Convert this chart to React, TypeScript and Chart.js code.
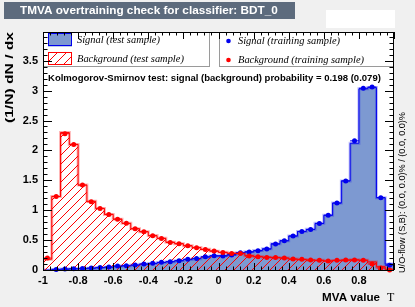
import React, { useEffect, useRef } from 'react';
import { Chart, registerables } from 'chart.js';

Chart.register(...registerables);

// ---------------- data ----------------
const binLowEdges = [
  -1, -0.95, -0.9, -0.85, -0.8, -0.75, -0.7, -0.65, -0.6, -0.55,
  -0.5, -0.45, -0.4, -0.35, -0.3, -0.25, -0.2, -0.15, -0.1, -0.05,
  0, 0.05, 0.1, 0.15, 0.2, 0.25, 0.3, 0.35, 0.4, 0.45,
  0.5, 0.55, 0.6, 0.65, 0.7, 0.75, 0.8, 0.85, 0.9, 0.95,
];
const binWidth = 0.05;

const signalTest = [
  0.0, 0.01, 0.015, 0.02, 0.025, 0.03, 0.04, 0.048, 0.062, 0.07,
  0.082, 0.098, 0.11, 0.125, 0.14, 0.155, 0.175, 0.19, 0.215, 0.235,
  0.24, 0.26, 0.285, 0.305, 0.325, 0.355, 0.44, 0.49, 0.57, 0.645,
  0.68, 0.78, 0.915, 1.12, 1.49, 2.12, 3.03, 3.05, 1.21, 0.1,
];
const signalTrain = [
  null, 0.01, 0.016, 0.022, 0.026, 0.032, 0.04, 0.05, 0.067, 0.072,
  0.083, 0.1, 0.111, 0.128, 0.139, 0.156, 0.178, 0.194, 0.222, 0.239,
  0.233, 0.25, 0.289, 0.3, 0.322, 0.35, 0.433, 0.489, 0.567, 0.644,
  0.678, 0.778, 0.917, 1.12, 1.49, 2.16, 3.04, 3.06, 1.21, 0.08,
];
const backgroundTest = [
  0.18, 1.23, 2.3, 2.1, 1.42, 1.15, 1.03, 0.93, 0.85, 0.78,
  0.69, 0.64, 0.575, 0.53, 0.465, 0.44, 0.405, 0.375, 0.345, 0.315,
  0.295, 0.28, 0.275, 0.24, 0.225, 0.215, 0.205, 0.2, 0.182, 0.175,
  0.165, 0.162, 0.15, 0.16, 0.165, 0.17, 0.165, 0.135, 0.055, 0.01,
];
const backgroundTrain = [
  0.2, 1.23, 2.28, 2.1, 1.42, 1.14, 1.03, 0.93, 0.85, 0.78,
  0.69, 0.64, 0.572, 0.528, 0.461, 0.439, 0.406, 0.372, 0.344, 0.317,
  0.294, 0.278, 0.278, 0.233, 0.222, 0.211, 0.211, 0.2, 0.183, 0.178,
  0.167, 0.161, 0.15, 0.161, 0.167, 0.167, 0.161, 0.1, 0.033, 0.0,
];

const xTickLabels = ['-1', '-0.8', '-0.6', '-0.4', '-0.2', '0', '0.2', '0.4', '0.6', '0.8'];
const yTickLabels = ['0', '0.5', '1', '1.5', '2', '2.5', '3', '3.5'];

const titleText = 'TMVA overtraining check for classifier: BDT_0';
const ksText = 'Kolmogorov-Smirnov test: signal (background) probability = 0.198 (0.079)';
const legendTest = ['Signal (test sample)', 'Background (test sample)'];
const legendTrain = ['Signal (training sample)', 'Background (training sample)'];
const yTitle = '(1/N) dN / dx';
const xTitle = 'MVA value';
const xTitleSymbol = 'T';
const uoText = 'U/O-flow (S,B): (0.0, 0.0)% / (0.0, 0.0)%';

// ---------------- style ----------------
const X_MIN = -1;
const X_MAX = 1;
const Y_MIN = 0;
const Y_MAX = 3.98;
const SIG_FILL = '#7d99d1';
const SIG_LINE = '#0000ee';
const BKG_LINE = '#ff0000';
const TITLE_BG = '#5d6b7d';
const PAGE_BG = '#f0f0f0';
const HATCH_STEP = 9;
const SANS = '"Liberation Sans", Arial, sans-serif';
const SERIF = '"Liberation Serif", "Times New Roman", serif';

function stepData(vals: number[]) {
  const pts: { x: number; y: number }[] = [{ x: binLowEdges[0], y: 0 }];
  vals.forEach((v, i) => pts.push({ x: binLowEdges[i], y: v }));
  const last = binLowEdges.length - 1;
  pts.push({ x: binLowEdges[last] + binWidth, y: 0 });
  return pts;
}
function barData(vals: (number | null)[]) {
  const pts: { x: number; y: number | null }[] = [];
  vals.forEach((v, i) => {
    if (v === null) return;
    pts.push({ x: binLowEdges[i], y: v });
    pts.push({ x: binLowEdges[i] + binWidth, y: v });
    pts.push({ x: binLowEdges[i] + binWidth / 2, y: null });
  });
  return pts;
}
function pointData(vals: (number | null)[]) {
  return vals
    .map((v, i) => ({ x: binLowEdges[i] + binWidth / 2, y: v }))
    .filter((p) => p.y !== null);
}

function fitFont(ctx: CanvasRenderingContext2D, text: string, style: string, family: string, width: number) {
  ctx.font = `${style} 100px ${family}`;
  const w = ctx.measureText(text).width;
  const size = (100 * width) / w;
  return `${style} ${size.toFixed(2)}px ${family}`;
}

function hatchRegion(ctx: CanvasRenderingContext2D, left: number, top: number, right: number, bottom: number) {
  const h = bottom - top;
  ctx.strokeStyle = BKG_LINE;
  ctx.lineWidth = 1;
  ctx.beginPath();
  const start = Math.floor((left - h) / HATCH_STEP) * HATCH_STEP;
  for (let c = start; c <= right; c += HATCH_STEP) {
    ctx.moveTo(c, bottom);
    ctx.lineTo(c + h, top);
  }
  ctx.stroke();
}

export default function App() {
  const ref = useRef<HTMLCanvasElement | null>(null);

  useEffect(() => {
    const canvas = ref.current;
    if (!canvas) return;

    const decor = {
      id: 'decor',
      beforeDraw(chart: any) {
        const { ctx, chartArea: a } = chart;
        ctx.save();
        ctx.fillStyle = PAGE_BG;
        ctx.fillRect(0, 0, chart.width, chart.height);
        ctx.fillStyle = '#ffffff';
        ctx.fillRect(a.left, a.top, a.right - a.left, a.bottom - a.top);
        // title box
        ctx.fillStyle = TITLE_BG;
        ctx.fillRect(4, 2, 291, 17);
        ctx.fillStyle = '#ffffff';
        ctx.font = fitFont(ctx, titleText, 'bold', SANS, 258);
        ctx.textBaseline = 'middle';
        ctx.textAlign = 'left';
        ctx.fillText(titleText, 20, 11);
        // small white box top right
        ctx.fillStyle = '#ffffff';
        ctx.fillRect(326, 10, 69, 18);
        ctx.restore();
      },
      beforeDatasetDraw(chart: any, args: any) {
        const ds = chart.data.datasets[args.index];
        if (!ds || ds.label !== 'Background (test sample)') return;
        const { ctx, chartArea: a, scales } = chart;
        const xs = scales.x;
        const ys = scales.y;
        ctx.save();
        ctx.beginPath();
        ctx.rect(a.left, a.top, a.right - a.left, a.bottom - a.top);
        ctx.clip();
        ctx.beginPath();
        const y0 = ys.getPixelForValue(0);
        ctx.moveTo(xs.getPixelForValue(binLowEdges[0]), y0);
        backgroundTest.forEach((v, i) => {
          const yv = ys.getPixelForValue(v);
          ctx.lineTo(xs.getPixelForValue(binLowEdges[i]), yv);
          ctx.lineTo(xs.getPixelForValue(binLowEdges[i] + binWidth), yv);
        });
        const last = binLowEdges.length - 1;
        ctx.lineTo(xs.getPixelForValue(binLowEdges[last] + binWidth), y0);
        ctx.closePath();
        ctx.clip();
        hatchRegion(ctx, a.left, a.top, a.right, a.bottom);
        ctx.restore();
      },
      afterDatasetsDraw(chart: any) {
        const { ctx, chartArea: a, scales } = chart;
        const xs = scales.x;
        const ys = scales.y;
        ctx.save();
        // legends
        ctx.fillStyle = '#ffffff';
        ctx.strokeStyle = '#9a9a9a';
        ctx.lineWidth = 1;
        ctx.fillRect(a.left, a.top, 167, 35);
        ctx.strokeRect(a.left + 0.5, a.top + 0.5, 166, 34);
        ctx.fillRect(219, a.top, a.right - 219, 35);
        ctx.strokeRect(219.5, a.top + 0.5, a.right - 220, 34);

        // legend symbols
        ctx.fillStyle = SIG_FILL;
        ctx.fillRect(48, 33.5, 24, 13);
        ctx.strokeStyle = SIG_LINE;
        ctx.strokeRect(48.5, 33.5, 23, 12);
        ctx.save();
        ctx.beginPath();
        ctx.rect(48, 52, 24, 13);
        ctx.clip();
        hatchRegion(ctx, 48, 52, 72, 65);
        ctx.restore();
        ctx.strokeStyle = BKG_LINE;
        ctx.lineWidth = 1;
        ctx.strokeRect(48.5, 52.5, 23, 12);
        ctx.fillStyle = SIG_LINE;
        ctx.beginPath(); ctx.arc(228.5, 41, 2.3, 0, Math.PI * 2); ctx.fill();
        ctx.fillStyle = BKG_LINE;
        ctx.beginPath(); ctx.arc(228.5, 60, 2.3, 0, Math.PI * 2); ctx.fill();

        // legend texts
        ctx.font = fitFont(ctx, legendTest[1], 'italic', SERIF, 107);
        ctx.fillStyle = '#000000';
        ctx.textBaseline = 'middle';
        ctx.textAlign = 'left';
        ctx.fillText(legendTest[0], 77, 40.5);
        ctx.fillText(legendTest[1], 77, 59);
        ctx.fillText(legendTrain[0], 238, 41);
        ctx.fillText(legendTrain[1], 238, 60);

        // KS text
        ctx.font = fitFont(ctx, ksText, 'bold', SANS, 333);
        ctx.fillText(ksText, 48, 78);

        // ticks
        ctx.strokeStyle = '#000000';
        ctx.lineWidth = 1;
        ctx.beginPath();
        for (let k = 0; k <= 50; k++) {
          const v = X_MIN + k * 0.04;
          const px = Math.round(xs.getPixelForValue(v)) + 0.5;
          const len = k % 5 === 0 ? 7 : 3.5;
          ctx.moveTo(px, a.bottom); ctx.lineTo(px, a.bottom - len);
          ctx.moveTo(px, a.top); ctx.lineTo(px, a.top + len);
        }
        for (let k = 0; k * 0.1 <= Y_MAX + 1e-9; k++) {
          const v = Y_MIN + k * 0.1;
          const py = Math.round(ys.getPixelForValue(v)) + 0.5;
          const len = k % 5 === 0 ? 9 : 4.5;
          ctx.moveTo(a.left, py); ctx.lineTo(a.left + len, py);
          ctx.moveTo(a.right, py); ctx.lineTo(a.right - len, py);
        }
        ctx.stroke();
        // frame
        ctx.strokeRect(a.left + 0.5, a.top + 0.5, a.right - a.left - 1, a.bottom - a.top);
        ctx.restore();
      },
      afterDraw(chart: any) {
        const { ctx, chartArea: a } = chart;
        ctx.save();
        ctx.fillStyle = '#000000';
        // y title (stretched along its direction, like the reference)
        ctx.translate(10, a.top);
        ctx.rotate(-Math.PI / 2);
        ctx.font = `bold 11px ${SANS}`;
        const yw = ctx.measureText(yTitle).width;
        ctx.scale(91 / yw, 1);
        ctx.textAlign = 'right';
        ctx.textBaseline = 'middle';
        ctx.fillText(yTitle, 0, 0);
        ctx.restore();

        ctx.save();
        ctx.fillStyle = '#000000';
        ctx.font = fitFont(ctx, xTitle, 'bold', SANS, 58);
        ctx.textAlign = 'right';
        ctx.textBaseline = 'middle';
        ctx.fillText(xTitle, 380, 297.5);
        ctx.font = `12px ${SERIF}`;
        ctx.textAlign = 'left';
        ctx.fillText(xTitleSymbol, 387, 297.5);

        // U/O-flow text
        ctx.translate(403, 273);
        ctx.rotate(-Math.PI / 2);
        ctx.font = `8.5px ${SANS}`;
        const uw = ctx.measureText(uoText).width;
        ctx.scale(161 / uw, 1);
        ctx.textAlign = 'left';
        ctx.textBaseline = 'middle';
        ctx.fillText(uoText, 0, 0);
        ctx.restore();
      },
    };

    const tickFont = { family: SANS, size: 11, weight: 'bold' as const };

    const chart = new Chart(canvas, {
      type: 'line',
      data: {
        datasets: [
          {
            label: 'Background (training sample) bars',
            data: barData(backgroundTrain),
            borderColor: BKG_LINE,
            borderWidth: 1,
            pointRadius: 0,
            spanGaps: false,
            fill: false,
            order: 0,
          } as any,
          {
            label: 'Background (training sample)',
            data: pointData(backgroundTrain),
            showLine: false,
            pointRadius: 2.5,
            pointBorderWidth: 0,
            pointBackgroundColor: BKG_LINE,
            borderColor: BKG_LINE,
            fill: false,
            clip: 3,
            order: 0,
          } as any,
          {
            label: 'Signal (training sample) bars',
            data: barData(signalTrain),
            borderColor: SIG_LINE,
            borderWidth: 1,
            pointRadius: 0,
            spanGaps: false,
            fill: false,
            order: 1,
          } as any,
          {
            label: 'Signal (training sample)',
            data: pointData(signalTrain),
            showLine: false,
            pointRadius: 2.5,
            pointBorderWidth: 0,
            pointBackgroundColor: SIG_LINE,
            borderColor: SIG_LINE,
            fill: false,
            clip: 3,
            order: 1,
          } as any,
          {
            label: 'Background halo',
            data: stepData(backgroundTest),
            stepped: true,
            borderColor: 'rgba(255,0,0,0.3)',
            borderWidth: 3,
            pointRadius: 0,
            fill: false,
            order: 2,
          } as any,
          {
            label: 'Background (test sample)',
            data: stepData(backgroundTest),
            stepped: true,
            borderColor: BKG_LINE,
            borderWidth: 1,
            pointRadius: 0,
            fill: false,
            order: 3,
          } as any,
          {
            label: 'Signal halo',
            data: stepData(signalTest),
            stepped: true,
            borderColor: 'rgba(0,0,238,0.25)',
            borderWidth: 3,
            pointRadius: 0,
            fill: false,
            order: 4,
          } as any,
          {
            label: 'Signal (test sample)',
            data: stepData(signalTest),
            stepped: true,
            borderColor: SIG_LINE,
            borderWidth: 1,
            backgroundColor: SIG_FILL,
            pointRadius: 0,
            fill: 'origin',
            order: 5,
          } as any,
        ],
      },
      options: {
        responsive: false,
        animation: false,
        events: [],
        layout: { padding: { left: 0, right: 21, top: 32, bottom: 0 } },
        plugins: {
          legend: { display: false },
          title: { display: false },
          tooltip: { enabled: false },
        },
        scales: {
          x: {
            type: 'linear',
            min: X_MIN,
            max: X_MAX,
            grid: { display: false, drawTicks: false },
            border: { display: false },
            afterFit: (s: any) => { s.height = 37; },
            ticks: {
              stepSize: 0.2,
              autoSkip: false,
              maxRotation: 0,
              minRotation: 0,
              includeBounds: false,
              padding: 4,
              color: '#000000',
              font: tickFont,
              callback: (v: any) => {
                const s = String(Math.round(Number(v) * 10) / 10);
                return xTickLabels.includes(s) ? s : '';
              },
            },
          },
          y: {
            type: 'linear',
            min: Y_MIN,
            max: Y_MAX,
            grid: { display: false, drawTicks: false },
            border: { display: false },
            afterFit: (s: any) => { s.width = 43; },
            ticks: {
              stepSize: 0.5,
              autoSkip: false,
              includeBounds: false,
              padding: 5,
              color: '#000000',
              font: tickFont,
              callback: (v: any) => {
                const s = String(Math.round(Number(v) * 10) / 10);
                return yTickLabels.includes(s) ? s : '';
              },
            },
          },
        },
      },
      plugins: [decor],
    } as any);

    return () => chart.destroy();
  }, []);

  return (
    <div style={{ position: 'fixed', left: 0, top: 0, width: 415, height: 307, background: PAGE_BG }}>
      <canvas ref={ref} width={415} height={307} style={{ display: 'block', width: 415, height: 307 }} />
    </div>
  );
}
